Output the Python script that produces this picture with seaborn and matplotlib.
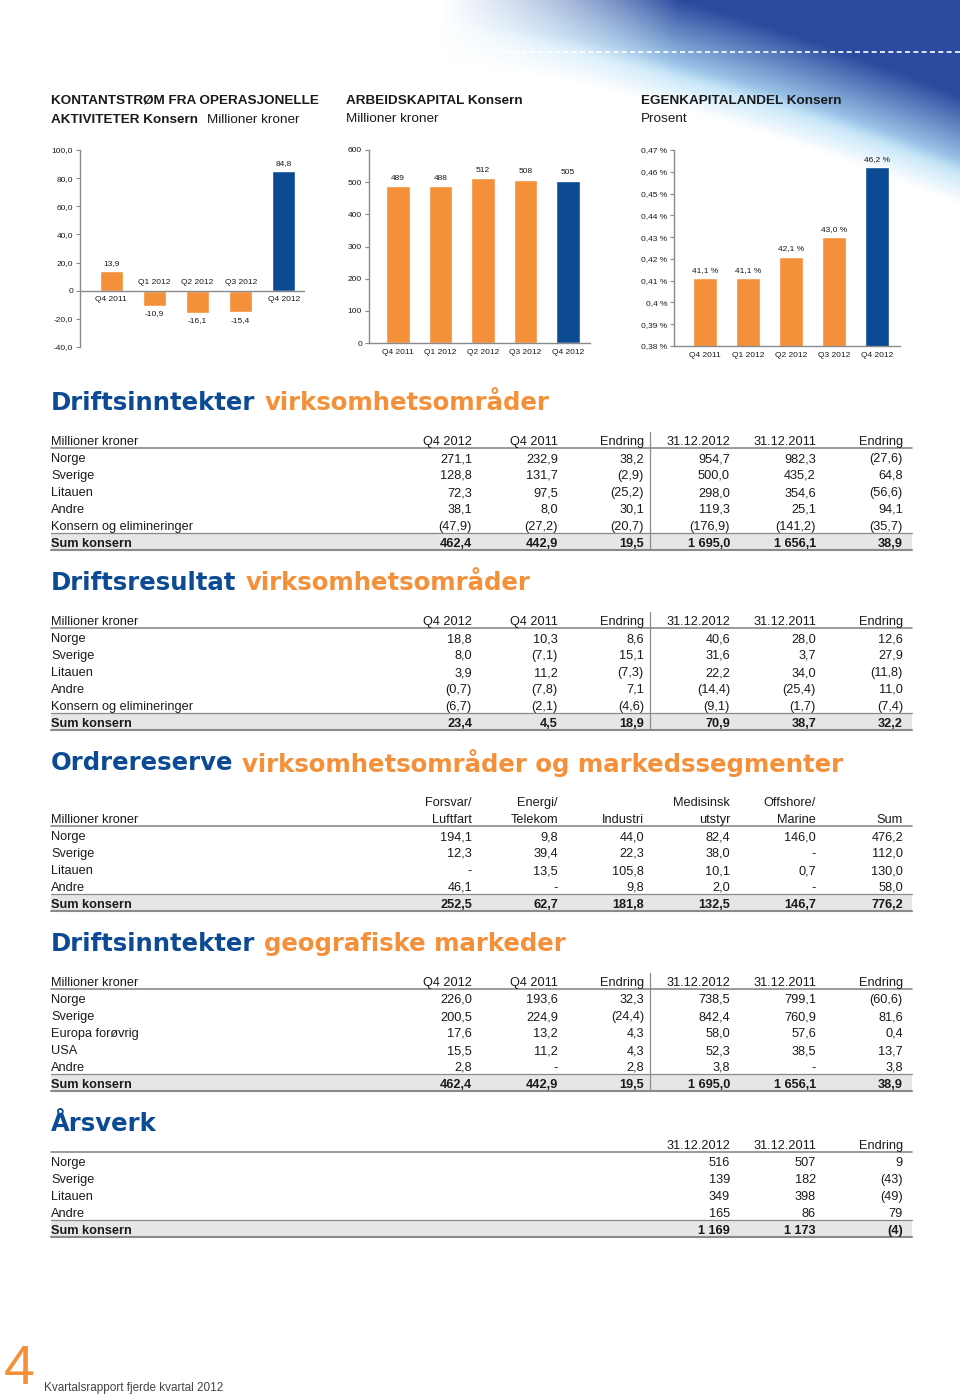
import numpy as np
import pandas as pd
import seaborn as sns
import matplotlib.pyplot as plt

# ---- chart data ----
quarters = ["Q4 2011", "Q1 2012", "Q2 2012", "Q3 2012", "Q4 2012"]
kontantstrom = [13.9, -10.9, -16.1, -15.4, 84.8]
arbeidskapital = [489, 488, 512, 508, 505]
egenkapitalandel = [41.1, 41.1, 42.1, 43.0, 46.2]

# ---- table data ----
period_cols = ["Q4 2012", "Q4 2011", "Endring", "31.12.2012", "31.12.2011", "Endring"]

seg_rows = ["Norge", "Sverige", "Litauen", "Andre", "Konsern og elimineringer"]
inntekt_seg = [
    ["271,1", "232,9", "38,2", "954,7", "982,3", "(27,6)"],
    ["128,8", "131,7", "(2,9)", "500,0", "435,2", "64,8"],
    ["72,3", "97,5", "(25,2)", "298,0", "354,6", "(56,6)"],
    ["38,1", "8,0", "30,1", "119,3", "25,1", "94,1"],
    ["(47,9)", "(27,2)", "(20,7)", "(176,9)", "(141,2)", "(35,7)"],
]
inntekt_seg_sum = ["462,4", "442,9", "19,5", "1 695,0", "1 656,1", "38,9"]

resultat_seg = [
    ["18,8", "10,3", "8,6", "40,6", "28,0", "12,6"],
    ["8,0", "(7,1)", "15,1", "31,6", "3,7", "27,9"],
    ["3,9", "11,2", "(7,3)", "22,2", "34,0", "(11,8)"],
    ["(0,7)", "(7,8)", "7,1", "(14,4)", "(25,4)", "11,0"],
    ["(6,7)", "(2,1)", "(4,6)", "(9,1)", "(1,7)", "(7,4)"],
]
resultat_seg_sum = ["23,4", "4,5", "18,9", "70,9", "38,7", "32,2"]

ordre_cols_top = ["Forsvar/", "Energi/", "", "Medisinsk", "Offshore/", ""]
ordre_cols = ["Luftfart", "Telekom", "Industri", "utstyr", "Marine", "Sum"]
ordre_rows = ["Norge", "Sverige", "Litauen", "Andre"]
ordre = [
    ["194,1", "9,8", "44,0", "82,4", "146,0", "476,2"],
    ["12,3", "39,4", "22,3", "38,0", "-", "112,0"],
    ["-", "13,5", "105,8", "10,1", "0,7", "130,0"],
    ["46,1", "-", "9,8", "2,0", "-", "58,0"],
]
ordre_sum = ["252,5", "62,7", "181,8", "132,5", "146,7", "776,2"]

geo_rows = ["Norge", "Sverige", "Europa forøvrig", "USA", "Andre"]
inntekt_geo = [
    ["226,0", "193,6", "32,3", "738,5", "799,1", "(60,6)"],
    ["200,5", "224,9", "(24,4)", "842,4", "760,9", "81,6"],
    ["17,6", "13,2", "4,3", "58,0", "57,6", "0,4"],
    ["15,5", "11,2", "4,3", "52,3", "38,5", "13,7"],
    ["2,8", "-", "2,8", "3,8", "-", "3,8"],
]
inntekt_geo_sum = ["462,4", "442,9", "19,5", "1 695,0", "1 656,1", "38,9"]

arsverk_cols = ["31.12.2012", "31.12.2011", "Endring"]
arsverk_rows = ["Norge", "Sverige", "Litauen", "Andre"]
arsverk = [
    ["516", "507", "9"],
    ["139", "182", "(43)"],
    ["349", "398", "(49)"],
    ["165", "86", "79"],
]
arsverk_sum = ["1 169", "1 173", "(4)"]

ORANGE = "#F5903A"
BLUE = "#0C4B93"
GREY = "#8a8a8a"
TXT = "#1a1a1a"

sns.set_style("white")
plt.rcParams["font.family"] = ["Liberation Sans", "DejaVu Sans"]

W, H = 960, 1397
fig = plt.figure(figsize=(W / 100, H / 100), dpi=100)
bg = fig.add_axes([0, 0, 1, 1], zorder=0)
bg.axis("off")

# decorative swoosh top right
gx = np.linspace(420, 960, 270)
gy = np.linspace(0, 280, 140)
X, Y = np.meshgrid(gx, gy)
t = np.clip((X - 440) / 520, 0, 1)
yb = 35 + 140 * t ** 1.5
depth = np.clip((yb - Y) / 80, 0, 1)
edge = np.clip((yb - Y + 30) / 45, 0, 1) * np.clip(t * 2.2, 0, 1)
dark = np.array([0.17, 0.29, 0.62])
light = np.array([0.70, 0.87, 0.97])
img = np.zeros(X.shape + (4,))
img[..., :3] = light * (1 - depth[..., None]) + dark * depth[..., None]
img[..., 3] = edge
bg.imshow(img, extent=(420, 960, 280, 0), aspect="auto", zorder=0, interpolation="bilinear")
bg.plot([480, 960], [52, 52], color="white", lw=1.2, ls=(0, (3, 2)), zorder=1)
bg.set_xlim(0, W)
bg.set_ylim(H, 0)

# chart headings
hd = dict(fontsize=9.7, color=TXT, va="center")
bg.text(51, 101, "KONTANTSTRØM FRA OPERASJONELLE", fontweight="bold", **hd)
bg.text(51, 120, "AKTIVITETER Konsern", fontweight="bold", **hd)
bg.text(207, 120, "Millioner kroner", **hd)
bg.text(346, 101, "ARBEIDSKAPITAL Konsern", fontweight="bold", **hd)
bg.text(346, 119, "Millioner kroner", **hd)
bg.text(641, 101, "EGENKAPITALANDEL Konsern", fontweight="bold", **hd)
bg.text(641, 119, "Prosent", **hd)

bar_colors = [ORANGE] * 4 + [BLUE]


def rect(x0, y0, x1, y1):
    return [x0 / W, 1 - y1 / H, (x1 - x0) / W, (y1 - y0) / H]


def bar_chart(r, values, ylim, ticks, ticklabels, xlim, width):
    ax = fig.add_axes(r, zorder=2)
    df = pd.DataFrame({"q": quarters, "v": values})
    sns.barplot(data=df, x="q", y="v", hue="q", palette=bar_colors, saturation=1,
                width=width, legend=False, ax=ax)
    ax.set_facecolor("none")
    ax.set_xlim(*xlim)
    ax.set_ylim(*ylim)
    ax.set_yticks(ticks)
    ax.set_yticklabels(ticklabels)
    ax.set_xticks([])
    ax.set_xlabel("")
    ax.set_ylabel("")
    for s in ["top", "right"]:
        ax.spines[s].set_visible(False)
    for s in ["left", "bottom"]:
        ax.spines[s].set_color(GREY)
        ax.spines[s].set_linewidth(1)
    ax.tick_params(axis="y", left=True, length=3, width=0.8, color=GREY,
                   labelsize=6, pad=2, labelcolor=TXT)
    return ax


# chart 1: kontantstrøm
ax1 = bar_chart(rect(80, 150, 305, 347), kontantstrom, (-40, 100),
                list(range(-40, 101, 20)),
                [("0" if v == 0 else f"{v:.1f}".replace(".", ",")) for v in range(-40, 101, 20)],
                (-0.72, 4.49), 0.53)
ax1.spines["bottom"].set_visible(False)
ax1.axhline(0, color=GREY, lw=1)
for i, (q, v) in enumerate(zip(quarters, kontantstrom)):
    lab = f"{v:.1f}".replace(".", ",")
    if v >= 0:
        ax1.annotate(lab, (i, v), xytext=(0, 3), textcoords="offset points",
                     ha="center", va="bottom", fontsize=6, color=TXT)
        ax1.annotate(q, (i, 0), xytext=(0, -6.5), textcoords="offset points",
                     ha="center", va="center", fontsize=6, color=TXT)
    else:
        ax1.annotate(lab, (i, v), xytext=(0, -3), textcoords="offset points",
                     ha="center", va="top", fontsize=6, color=TXT)
        ax1.annotate(q, (i, 0), xytext=(0, 6), textcoords="offset points",
                     ha="center", va="center", fontsize=6, color=TXT)

# chart 2: arbeidskapital
ax2 = bar_chart(rect(369, 150, 590, 343), arbeidskapital, (0, 600),
                list(range(0, 601, 100)), [str(v) for v in range(0, 601, 100)],
                (-0.68, 4.52), 0.56)
for i, (q, v) in enumerate(zip(quarters, arbeidskapital)):
    ax2.annotate(str(v), (i, v), xytext=(0, 3), textcoords="offset points",
                 ha="center", va="bottom", fontsize=6, color=TXT)
    ax2.annotate(q, (i, 0), xytext=(0, -6.5), textcoords="offset points",
                 ha="center", va="center", fontsize=6, color=TXT)

# chart 3: egenkapitalandel
ek_ticks = [round(0.38 + 0.01 * k, 2) for k in range(10)]
ax3 = bar_chart(rect(674, 150, 900, 346), [v / 100 for v in egenkapitalandel], (0.38, 0.47),
                ek_ticks, [f"{v:g}".replace(".", ",") + " %" for v in ek_ticks],
                (-0.72, 4.53), 0.56)
for i, (q, v) in enumerate(zip(quarters, egenkapitalandel)):
    ax3.annotate(f"{v:.1f}".replace(".", ",") + " %", (i, v / 100), xytext=(0, 3),
                 textcoords="offset points", ha="center", va="bottom", fontsize=6, color=TXT)
    ax3.annotate(q, (i, 0.38), xytext=(0, -6.5), textcoords="offset points",
                 ha="center", va="center", fontsize=6, color=TXT)

# ---- tables ----
renderer = fig.canvas.get_renderer()
COLX = [472, 558, 644, 730, 816, 903]
FS = 9.2
ROW = 17
DY = 2  # text baseline tweak


def section_title(y, first, rest):
    t = bg.text(51, y, first, fontsize=17.6, fontweight="bold", color=BLUE, va="center",
                family="DejaVu Sans")
    if rest:
        bb = t.get_window_extent(renderer)
        bg.text(bb.x1 + 9, y, rest, fontsize=17.6, fontweight="bold", color=ORANGE,
                va="center", family="DejaVu Sans")


def table(y_head, cols, rows, data, total, colx, vsep=True, cols_top=None, label="Millioner kroner"):
    if label:
        bg.text(51, y_head + DY, label, fontsize=FS, color=TXT, va="center")
    for x, c in zip(colx, cols):
        bg.text(x, y_head + DY, c, fontsize=FS, color=TXT, va="center", ha="right")
    if cols_top:
        for x, c in zip(colx, cols_top):
            bg.text(x, y_head - ROW + DY, c, fontsize=FS, color=TXT, va="center", ha="right")
    bg.plot([51, 912], [y_head + 8, y_head + 8], color=GREY, lw=1.2)
    for k, (name, vals) in enumerate(zip(rows, data)):
        y = y_head + ROW * (k + 1) + DY
        bg.text(51, y, name, fontsize=FS, color=TXT, va="center")
        for x, v in zip(colx, vals):
            bg.text(x, y, v, fontsize=FS, color=TXT, va="center", ha="right")
    ys = y_head + ROW * (len(rows) + 1)
    bg.fill_between([51, 912], ys - 9, ys + 8, color="#E5E6E8", lw=0, zorder=0.5)
    bg.plot([51, 912], [ys - 9, ys - 9], color=GREY, lw=0.9)
    bg.plot([51, 912], [ys + 8, ys + 8], color=GREY, lw=1.5)
    bg.text(51, ys + DY, "Sum konsern", fontsize=FS, color=TXT, va="center", fontweight="bold")
    for x, v in zip(colx, total):
        bg.text(x, ys + DY, v, fontsize=FS, color=TXT, va="center", ha="right", fontweight="bold")
    if vsep:
        bg.plot([650, 650], [y_head - 8, ys + 8], color=GREY, lw=0.9)


section_title(403, "Driftsinntekter", "virksomhetsområder")
table(440, period_cols, seg_rows, inntekt_seg, inntekt_seg_sum, COLX)

section_title(583, "Driftsresultat", "virksomhetsområder")
table(620, period_cols, seg_rows, resultat_seg, resultat_seg_sum, COLX)

section_title(763, "Ordrereserve", "virksomhetsområder og markedssegmenter")
table(818, ordre_cols, ordre_rows, ordre, ordre_sum, COLX, vsep=False, cols_top=ordre_cols_top)

section_title(944, "Driftsinntekter", "geografiske markeder")
table(981, period_cols, geo_rows, inntekt_geo, inntekt_geo_sum, COLX)

section_title(1124, "Årsverk", "")
table(1144, arsverk_cols, arsverk_rows, arsverk, arsverk_sum, COLX[3:], vsep=False, label=None)

# footer
bg.text(4, 1370, "4", fontsize=40, color=ORANGE, va="center", ha="left")
bg.text(44, 1388, "Kvartalsrapport fjerde kvartal 2012", fontsize=8.5, color="#444444", va="center")

fig.savefig("out.png", dpi=100)
